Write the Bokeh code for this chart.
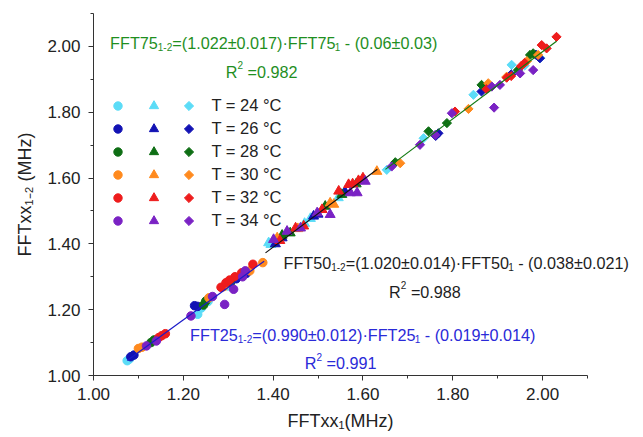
import math
from bokeh.plotting import figure
from bokeh.models import (Range1d, FixedTicker, PrintfTickFormatter, Label,
                          Legend, LegendItem, Title)
from bokeh.core.properties import value
from bokeh.embed import file_html
from bokeh.resources import INLINE

FONT = "Liberation Sans"

# ---------------- data ----------------
temps = ["24", "26", "28", "30", "32", "34"]
colors = ["#5BDCF7", "#1212B4", "#0E6E14", "#FF8A1E", "#EE1C1C", "#7A22C4"]

# FFT25 (circles)
c24_x = [1.075, 1.080, 1.232, 1.240, 1.300, 1.255]
c24_y = [1.045, 1.050, 1.186, 1.205, 1.272, 1.225]
c26_x = [1.083, 1.090, 1.225, 1.232, 1.318, 1.340]
c26_y = [1.057, 1.062, 1.212, 1.210, 1.294, 1.310]
c28_x = [1.128, 1.135, 1.245, 1.250, 1.305]
c28_y = [1.100, 1.108, 1.214, 1.226, 1.282]
c30_x = [1.100, 1.108, 1.257, 1.290, 1.348, 1.377]
c30_y = [1.082, 1.086, 1.236, 1.270, 1.318, 1.343]
c32_x = [1.145, 1.152, 1.160, 1.284, 1.295, 1.315, 1.330, 1.355, 1.303]
c32_y = [1.115, 1.121, 1.127, 1.268, 1.282, 1.300, 1.312, 1.338, 1.290]
c34_x = [1.118, 1.140, 1.217, 1.292, 1.312, 1.332, 1.338, 1.265]
c34_y = [1.090, 1.105, 1.181, 1.216, 1.262, 1.300, 1.318, 1.240]

# FFT50 (triangles)
t24_x = [1.390, 1.395, 1.483, 1.470, 1.545]
t24_y = [1.403, 1.398, 1.477, 1.462, 1.540]
t26_x = [1.405, 1.490, 1.500, 1.560, 1.420]
t26_y = [1.400, 1.484, 1.490, 1.558, 1.418]
t28_x = [1.420, 1.438, 1.516, 1.553, 1.585]
t28_y = [1.426, 1.433, 1.514, 1.550, 1.582]
t30_x = [1.409, 1.455, 1.527, 1.535, 1.600, 1.631]
t30_y = [1.418, 1.446, 1.524, 1.520, 1.593, 1.620]
t32_x = [1.415, 1.450, 1.468, 1.509, 1.546, 1.568, 1.577, 1.590, 1.600]
t32_y = [1.410, 1.448, 1.454, 1.504, 1.560, 1.580, 1.582, 1.592, 1.600]
t34_x = [1.401, 1.431, 1.461, 1.498, 1.527, 1.572, 1.587, 1.605]
t34_y = [1.413, 1.438, 1.448, 1.494, 1.489, 1.555, 1.555, 1.590]

# FFT75 (diamonds)
d24_x = [1.653, 1.735, 1.846, 1.931, 1.995, 1.960]
d24_y = [1.625, 1.721, 1.853, 1.944, 1.965, 1.942]
d26_x = [1.768, 1.762, 1.864, 1.930, 1.994, 1.985]
d26_y = [1.736, 1.728, 1.863, 1.915, 1.964, 1.975]
d28_x = [1.672, 1.746, 1.787, 1.864, 1.945, 1.972, 1.979]
d28_y = [1.648, 1.742, 1.767, 1.883, 1.928, 1.974, 1.979]
d30_x = [1.683, 1.835, 1.879, 1.920, 1.990, 1.965]
d30_y = [1.645, 1.810, 1.888, 1.908, 1.974, 1.955]
d32_x = [1.805, 1.875, 1.920, 1.930, 1.952, 1.998, 2.009, 2.031, 1.960]
d32_y = [1.802, 1.870, 1.905, 1.910, 1.940, 2.004, 1.994, 2.029, 1.950]
d34_x = [1.664, 1.727, 1.761, 1.798, 1.892, 1.887, 1.905, 1.950, 1.979]
d34_y = [1.635, 1.701, 1.731, 1.797, 1.814, 1.878, 1.883, 1.918, 1.928]

circ = [(c24_x, c24_y), (c26_x, c26_y), (c28_x, c28_y), (c30_x, c30_y), (c32_x, c32_y), (c34_x, c34_y)]
tri = [(t24_x, t24_y), (t26_x, t26_y), (t28_x, t28_y), (t30_x, t30_y), (t32_x, t32_y), (t34_x, t34_y)]
dia = [(d24_x, d24_y), (d26_x, d26_y), (d28_x, d28_y), (d30_x, d30_y), (d32_x, d32_y), (d34_x, d34_y)]

# linear fits (slope, intercept, x-range)
fit25 = (0.990, -0.019, [1.075, 1.380])
fit50 = (1.020, -0.038, [1.383, 1.632])
fit75 = (1.022, -0.060, [1.650, 2.031])

x_ticks = [1.0, 1.2, 1.4, 1.6, 1.8, 2.0]
y_ticks = [1.0, 1.2, 1.4, 1.6, 1.8, 2.0]
minor_ticks = [1.0, 1.1, 1.2, 1.3, 1.4, 1.5, 1.6, 1.7, 1.8, 1.9, 2.0, 2.1]
axis_min, axis_max = 1.0, 2.1

# ---------------- layout ----------------
W_FIG, H_FIG = 643, 437
LEFT, TOP, BOTTOM = 93, 13, 62
AXIS_RIGHT_PX = 587                      # where the x axis ends (2.10)
PXX = (AXIS_RIGHT_PX - LEFT) / (axis_max - axis_min)
PXY = (H_FIG - TOP - BOTTOM) / (axis_max - axis_min)
x_end = axis_min + (W_FIG - LEFT) / PXX  # frame runs to the right edge (room for texts)

p = figure(width=W_FIG, height=H_FIG, x_range=Range1d(axis_min, x_end), y_range=Range1d(axis_min, axis_max),
           output_backend="svg", toolbar_location=None,
           min_border_left=LEFT, min_border_right=0, min_border_top=TOP, min_border_bottom=BOTTOM)
p.outline_line_color = None
p.grid.visible = False
p.background_fill_color = "white"
p.border_fill_color = "white"

for ax, tk, so in ((p.xaxis, x_ticks, 7), (p.yaxis, y_ticks, 8)):
    ax.ticker = FixedTicker(ticks=tk, minor_ticks=minor_ticks)
    ax.formatter = PrintfTickFormatter(format="%.2f")
    ax.bounds = (axis_min, axis_max)
    ax.axis_line_color = "#333333"
    ax.major_tick_line_color = "#333333"
    ax.minor_tick_line_color = "#333333"
    ax.major_tick_out = 5
    ax.major_tick_in = 0
    ax.minor_tick_out = 3
    ax.minor_tick_in = 0
    ax.major_label_text_font = FONT
    ax.major_label_text_font_size = "17px"
    ax.major_label_text_color = "#222222"
    ax.major_label_standoff = so

p.yaxis.axis_label = "FFTxx\u2081\u208b\u2082 (MHz)"
p.yaxis.axis_label_text_font = FONT
p.yaxis.axis_label_text_font_size = "18px"
p.yaxis.axis_label_text_font_style = "normal"
p.yaxis.axis_label_text_color = "#222222"
p.yaxis.axis_label_standoff = 9

p.add_layout(Title(text="FFTxx\u2081(MHz)", align="left", offset=194, text_font=FONT,
                   text_font_size="18px", text_font_style="normal", text_color="#222222",
                   standoff=13), "below")

rc, rt, rd = [], [], []
for i, col in enumerate(colors):
    xs, ys = circ[i]
    rc.append(p.scatter(xs, ys, marker="circle", size=8.5, fill_color=col, line_color=col, line_width=1))
for i, col in enumerate(colors):
    xs, ys = tri[i]
    rt.append(p.scatter(xs, ys, marker="triangle", size=10, fill_color=col, line_color=col, line_width=1))
for i, col in enumerate(colors):
    xs, ys = dia[i]
    rd.append(p.scatter(xs, ys, marker="square", angle=math.pi / 4, size=6.5,
                        fill_color=col, line_color=col, line_width=1))

for (m, b, xr), lc in ((fit25, "#1A1AC8"), (fit50, "#111111"), (fit75, "#127A12")):
    p.line(xr, [m * x + b for x in xr], line_color=lc, line_width=1.2)

# ---------------- legend (three marker columns) ----------------
LEG_BOTTOM, ROW_H = 143, 23
common = dict(glyph_height=ROW_H, label_height=ROW_H, spacing=0, padding=0, margin=0,
              border_line_alpha=0, background_fill_alpha=0,
              label_text_font=FONT, label_text_font_size="16.5px", label_text_color="#222222")
leg_c = Legend(items=[LegendItem(label=value(""), renderers=[r]) for r in rc],
               location=(13.5, LEG_BOTTOM), glyph_width=21, label_width=0, label_standoff=0, **common)
leg_t = Legend(items=[LegendItem(label=value(""), renderers=[r]) for r in rt],
               location=(48, LEG_BOTTOM), glyph_width=25, label_width=0, label_standoff=0, **common)
dummy = p.scatter([], [], marker="square", size=1, fill_alpha=0, line_alpha=0)
leg_d = Legend(items=[LegendItem(label=value(f"T = {t} \u00b0C"), renderers=[dummy]) for t in temps],
               location=(87.5, LEG_BOTTOM), glyph_width=16, label_standoff=15, **common)
for lg in (leg_c, leg_t, leg_d):
    p.add_layout(lg)
# rotated-square (diamond) legend markers drawn in the third column
leg_dx = [axis_min + 95.5 / PXX] * len(temps)
leg_dy = [axis_min + (LEG_BOTTOM + ROW_H * (len(temps) - i) - ROW_H / 2) / PXY for i in range(len(temps))]
p.scatter(leg_dx, leg_dy, marker="square", angle=math.pi / 4, size=6.5, fill_color=colors, line_color=colors,
          line_width=1)

# ---------------- rich text helper ----------------
W = {' ': 278, '(': 333, ')': 333, '-': 333, '.': 278, '=': 584, '±': 549, '·': 278,
     'F': 611, 'T': 611, 'R': 722, 'M': 833, 'H': 722, 'C': 722, 'x': 500, 'z': 500}


def tw(s, fs):
    return sum(W.get(ch, 556) for ch in s) * fs / 1000.0


def rich(parts, x0, yc, size, color):
    def fsz(kind):
        return size if kind == "n" else size * 0.62

    def dy(kind):
        return 0 if kind == "n" else (-0.25 * size if kind == "sub" else 0.42 * size)

    pos = 0
    base = yc - 0.36 * size + 5
    for t, k in parts:
        fs = fsz(k)
        stripped = t.lstrip(" ")
        pos += tw(t[:len(t) - len(stripped)], fs)   # leading spaces are collapsed in SVG
        p.add_layout(Label(x=x0 + pos, y=base + dy(k), x_units="screen", y_units="screen", text=stripped,
                           text_font=FONT, text_font_size=f"{fs:.1f}px", text_color=color,
                           text_baseline="alphabetic", text_align="left"))
        pos += tw(stripped, fs)


GREEN_T, BLACK_T, BLUE_T = "#1F8F1F", "#1E1E1E", "#2A2AD8"
FS = 16.2
rich([("FFT75", "n"), ("1-2", "sub"), ("=(1.022±0.017)·FFT75", "n"), ("1", "sub"), (" - (0.06±0.03)", "n")],
     16.6, 333, FS, GREEN_T)
rich([("R", "n"), ("2", "sup"), (" =0.982", "n")], 132.3, 304.7, FS, GREEN_T)
rich([("FFT50", "n"), ("1-2", "sub"), ("=(1.020±0.014)·FFT50", "n"), ("1", "sub"), (" - (0.038±0.021)", "n")],
     190, 113, FS, BLACK_T)
rich([("R", "n"), ("2", "sup"), (" =0.988", "n")], 295.6, 84.7, FS, BLACK_T)
rich([("FFT25", "n"), ("1-2", "sub"), ("=(0.990±0.012)·FFT25", "n"), ("1", "sub"), (" - (0.019±0.014)", "n")],
     96.6, 41.4, FS, BLUE_T)
rich([("R", "n"), ("2", "sup"), (" =0.991", "n")], 211.3, 13, FS, BLUE_T)

open("out.html", "w").write(file_html(p, INLINE))
